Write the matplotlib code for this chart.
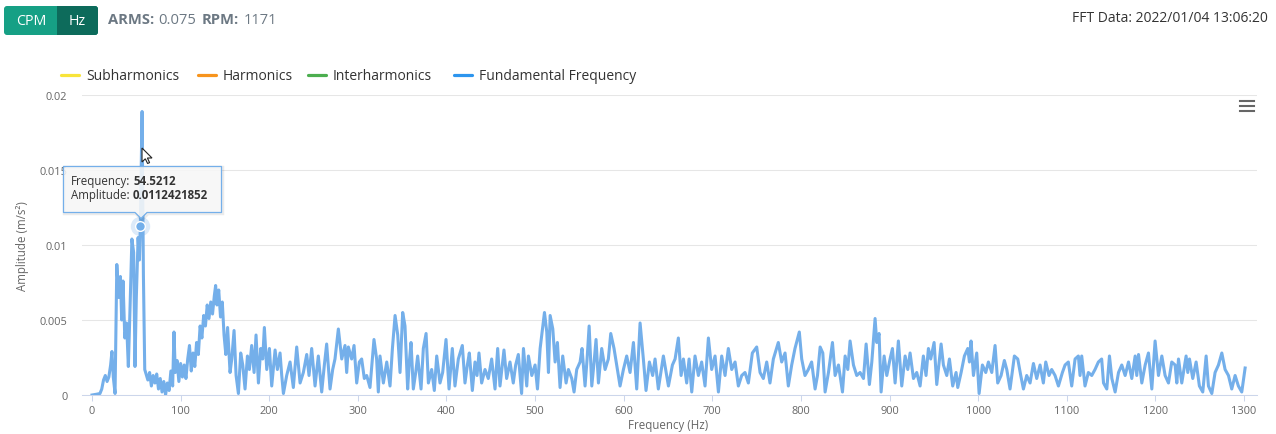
import numpy as np
import matplotlib.pyplot as plt
from matplotlib.transforms import Affine2D
from matplotlib.patches import FancyBboxPatch, Polygon, Rectangle
from matplotlib.lines import Line2D

plt.rcParams['font.family'] = ['Open Sans', 'DejaVu Sans']

W, H = 1276, 435

# FFT spectrum: frequency (Hz) and amplitude (x 1e-3 m/s²)
freq_hz = [
    0, 5, 9, 11, 13, 15, 17, 19, 21, 22.5, 24, 26, 28, 30, 32, 33.5, 35, 37, 39, 41,
    43, 45, 47, 48.5, 50, 52, 53.5, 54.5212, 56.5, 58, 59.5,
    61, 63, 65, 67, 69, 71, 73, 75, 77, 79, 81, 83, 85, 87, 89, 91, 92.5, 94, 96, 98,
    100, 102, 104, 106, 108, 110, 112, 114, 116, 118, 120, 122, 124, 126, 128, 130,
    132, 134, 136, 138, 139.5, 141, 143, 145, 147, 149, 151, 153,
    155.8, 157.7, 160.3, 162.6, 165.2, 167.8, 170.1, 172.7, 175.4, 177.6, 180.2, 182.9,
    185.1, 187.8, 190.4, 192.6, 194.5, 197.2, 200.2, 202.8, 206.6, 209.2, 212.2, 214.1,
    216, 219.7, 223.5, 227.2, 231, 234.8, 238.5, 242.3, 244.9, 247.9, 251.7, 255.4,
    259.2, 262.2, 264.8, 268.6, 271.6, 274.2, 278, 281.8, 285.5, 287.4, 289.3, 293,
    295.7, 298.7, 301.7, 304.3, 307.3, 310, 313.7, 318.2, 321.2, 323.1,
    325, 328.8, 332.6, 336.3, 339, 342, 345, 347.6, 350.6, 353.2, 356.2, 358.1, 360,
    362.6, 365.3, 367.5, 371.3, 373.9, 377, 379.6, 383.3, 386.3, 389, 392.7, 395.7,
    399.5, 402.9, 406.6, 409.6, 413.4, 417.9, 420.9, 423.6, 425.8, 429.2, 432.2, 434.5,
    436.7, 439.7, 443.5, 447.2, 451, 454.8, 457.8, 460.4, 464.9, 467.9, 471.7, 475.4,
    478.1, 481.1, 484.8,
    486.9, 490.6, 492.5, 496.3, 500, 502.7, 505.7, 508.3, 510.6, 513.2, 515.1, 517,
    520, 522.6, 525.2, 528.2, 531.2, 535, 537.6, 541.4, 544, 547, 550.8, 553, 556.4,
    558.7, 561, 564, 566.6, 568.8, 571.5, 575.2, 579, 582.7, 585.4, 589.1, 592.1,
    595.9, 599.7, 603.4, 607.2, 611, 614.7, 618.5, 622.2, 625.2, 629, 632.7, 635.4,
    639.1, 644.8, 648.5,
    650.5, 655, 658, 661.7, 664.8, 667.4, 671.1, 673.8, 676.8, 680.5, 684.3, 688,
    691.8, 695.6, 699.3, 703.1, 706.9, 710.6, 714.4, 718.1, 721.9, 725.7, 729.4,
    733.2, 736.9, 740.7, 745.2, 750.1, 753.9, 757.6, 761.4, 765.1, 768.9, 774.5,
    778.3, 782.1, 785.8, 789.6, 793.3, 798.2, 800.9, 804.6, 808.4, 812.1,
    816, 818.7, 821.7, 824.7, 827.3, 831.1, 835.6, 838.6, 842.4, 846.9, 849.9, 852.9,
    855.5, 859.3, 863, 866.8, 870.6, 873.6, 877.3, 880, 883.7, 885.6, 888.2, 890.5,
    893.9, 896.9, 900.6, 903.3, 906.3, 910, 913.8, 917.6, 920.6, 923.2, 927, 930.7,
    934.5, 938.2, 941.2, 943.9, 946.5, 950.3, 953.3, 958.2, 960.8, 964.6, 967.6,
    971.3, 975.1,
    977, 980.8, 984.5, 988.3, 990.2, 992, 994.7, 998.4, 1001.1, 1004.8, 1008.6,
    1011.6, 1015.4, 1019.1, 1022.1, 1025.9, 1029.6, 1032.3, 1036, 1040.9, 1044.7,
    1048.1, 1051.1, 1054.8, 1058.6, 1062.4, 1066.1, 1069.9, 1073.6, 1076.3, 1080,
    1083, 1086.8, 1090.6, 1095.1, 1098.1, 1101.8, 1105.6, 1109.4, 1113.1, 1115,
    1116.9, 1120.6, 1124.4, 1128.2, 1131.9, 1135.7, 1139.4,
    1141.5, 1145.2, 1148.2, 1150.9, 1154.6, 1158.4, 1162.1, 1165.9, 1169.7, 1173.4,
    1177.2, 1179, 1181, 1184.7, 1188.5, 1192.2, 1196, 1199.7, 1203.5, 1207.3, 1211,
    1214.8, 1218.5, 1222.3, 1224.2, 1226.1, 1229.8, 1234.7, 1236.6, 1238.5, 1242.2,
    1246, 1249.7, 1253.5, 1257.3, 1259.9, 1263.7, 1267.4, 1271.2, 1275, 1278.7,
    1282.5, 1286.2, 1290, 1293.7, 1297.5, 1301.3,
]
amp_milli = [
    0.0, 0.05, 0.1, 0.4, 1.0, 1.3, 0.9, 1.2, 2.0, 2.9, 1.2, 0.1, 8.7, 6.5, 7.9, 5.0, 7.6, 3.8, 4.8, 1.9,
    6.0, 10.4, 9.5, 1.9, 6.5, 10.5, 9.0, 11.2421852, 18.9, 8.0, 1.7,
    1.4, 1.0, 1.5, 0.6, 1.3, 0.8, 1.4, 0.4, 1.1, 0.2, 0.9, 0.0, 0.8, 0.3, 1.6, 0.6, 4.2, 1.5, 2.3, 0.9,
    2.1, 1.2, 2.0, 1.1, 2.4, 3.3, 1.6, 2.8, 1.9, 3.5, 2.7, 4.6, 3.8, 5.3, 4.6, 6.0,
    5.1, 6.2, 5.4, 6.6, 7.3, 6.0, 7.0, 5.2, 6.2, 4.0, 2.7, 4.5,
    1.5, 2.4, 4.3, 1.3, 0.1, 2.8, 2.0, 0.4, 2.6, 1.7, 3.3, 1.5,
    4.0, 0.8, 3.1, 2.4, 4.5, 1.7, 3.1, 0.6, 3.0, 1.7, 2.8, 1.3,
    0.1, 1.3, 2.2, 0.5, 3.2, 0.8, 1.5, 2.7, 1.3, 3.1, 0.6, 2.6,
    0.2, 2.0, 3.4, 0.4, 1.7, 2.4, 4.4, 2.4, 3.3, 1.5, 3.2, 2.4,
    3.3, 0.8, 2.2, 2.4, 1.1, 1.3, 0.5, 3.7, 2.4, 0.2,
    2.6, 0.8, 2.2, 0.6, 3.1, 5.3, 4.0, 1.5, 5.5, 4.6, 0.4, 2.2, 3.5,
    0.4, 1.5, 2.6, 0.4, 3.1, 4.1, 0.8, 1.7, 0.3, 2.6, 0.8, 1.5,
    3.7, 0.4, 3.1, 0.6, 2.4, 3.3, 0.8, 2.0, 2.8, 0.3, 2.2, 1.3,
    2.8, 0.8, 1.7, 1.1, 2.4, 0.4, 3.1, 0.6, 3.0, 1.1, 2.2, 0.8,
    2.0, 2.7, 0.1,
    3.1, 0.6, 2.6, 1.3, 2.0, 0.4, 3.1, 4.4, 5.5, 4.2, 1.5, 5.3,
    4.4, 2.2, 3.5, 0.5, 2.6, 0.8, 1.7, 1.1, 0.2, 1.7, 2.2, 3.1, 0.6,
    2.4, 4.6, 0.6, 2.2, 3.7, 0.8, 3.1, 1.7, 2.4, 4.1, 3.1, 2.0,
    0.6, 1.7, 2.6, 1.5, 3.5, 0.4, 4.8, 2.4, 0.3, 2.2, 1.3, 2.4,
    0.4, 2.6, 1.3,
    0.6, 2.0, 2.4, 3.8, 1.3, 2.4, 0.8, 2.4, 0.2, 2.6, 1.3, 2.2,
    0.6, 3.8, 1.7, 2.6, 0.2, 2.6, 1.3, 3.1, 1.7, 2.2, 0.6,
    1.3, 1.5, 0.8, 2.8, 3.2, 1.5, 1.1, 2.2, 0.8, 2.4, 3.5,
    2.2, 2.8, 0.6, 2.0, 3.1, 4.2, 2.4, 1.3, 1.7, 2.2,
    0.4, 1.3, 3.2, 2.8, 0.2, 1.5, 3.5, 1.3, 2.0, 0.2, 2.6, 1.7,
    3.6, 2.0, 1.3, 1.5, 1.1, 3.4, 0.7, 2.2, 5.1, 3.5, 4.1, 0.2,
    2.6, 1.3, 2.4, 3.1, 0.8, 3.6, 0.6, 2.6, 1.7, 2.8, 1.1, 1.5,
    0.6, 2.6, 1.3, 3.1, 2.4, 3.5, 0.7, 3.4, 2.0, 1.3, 2.4,
    0.6, 1.5,
    0.5, 1.5, 2.6, 3.1, 2.2, 3.6, 1.3, 2.8, 0.1, 2.0, 1.5,
    2.2, 1.5, 3.3, 0.8, 1.3, 2.3, 1.7, 0.4, 2.6, 2.4,
    1.3, 0.4, 1.3, 0.8, 2.1, 1.1, 2.0, 0.8, 2.2, 1.3,
    1.7, 1.3, 0.6, 1.5, 2.0, 2.2, 0.6, 2.4, 2.6, 1.3,
    2.6, 0.6, 1.5, 1.3, 1.7, 2.2, 2.4,
    0.8, 0.4, 2.6, 1.1, 0.2, 1.5, 2.0, 1.3, 2.2, 1.1,
    2.6, 1.3, 2.7, 0.8, 2.0, 2.8, 0.4, 3.6, 1.3, 2.6, 1.3,
    0.8, 2.2, 2.0, 0.8, 2.4, 0.8, 2.6, 1.5, 2.4, 1.1,
    2.2, 0.6, 0.2, 2.6, 0.6, 0.1, 1.5, 2.0, 2.8, 1.7,
    1.3, 0.4, 1.3, 0.6, 0.2, 1.8,
]
assert len(freq_hz) == len(amp_milli)

hover_freq = 54.5212

x_ticks = list(range(0, 1301, 100))
y_ticks = [0, 0.005, 0.01, 0.015, 0.02]
y_tick_labels = ['0', '0.005', '0.01', '0.015', '0.02']

legend_names = ['Subharmonics', 'Harmonics', 'Interharmonics', 'Fundamental Frequency']
legend_colors = ['#f8e43a', '#f7941d', '#4cae4f', '#2d95ee']
legend_x = [59, 196, 306, 452]

arms = '0.075'
rpm = '1171'
fft_stamp = '2022/01/04 13:06:20'

LINE = '#74afea'
GRAY = '#666666'

freq = np.array(freq_hz)
amp = np.array(amp_milli) * 1e-3

fig = plt.figure(figsize=(W / 100, H / 100), dpi=100)
fig.patch.set_facecolor('white')
# pixel coordinates with the origin at the top-left corner
px = Affine2D().scale(1 / W, -1 / H).translate(0, 1) + fig.transFigure
renderer = fig.canvas.get_renderer()

ax = fig.add_axes([82 / W, 1 - 396 / H, 1175 / W, 300 / H])
ax.plot(freq, amp, color=LINE, lw=2.2, solid_joinstyle='round', zorder=3)
ax.set_xlim(-11.3, 1314.7)
ax.set_ylim(0, 0.02)

ax.set_xticks(x_ticks)
ax.set_xticklabels([str(t) for t in x_ticks])
ax.set_yticks(y_ticks)
ax.set_yticklabels(y_tick_labels)
ax.tick_params(axis='x', length=4, width=0.75, color='#ccd6eb', pad=3.5,
               labelsize=7.9, labelcolor=GRAY)
ax.tick_params(axis='y', length=0, pad=10.5, labelsize=7.9, labelcolor=GRAY)
ax.grid(axis='y', color='#e6e6e6', lw=0.75)
ax.set_axisbelow(True)
for side in ['top', 'right', 'left']:
    ax.spines[side].set_visible(False)
ax.spines['bottom'].set_color('#ccd6eb')
ax.spines['bottom'].set_linewidth(0.75)

# hovered point
hover = int(np.argmin(np.abs(freq - hover_freq)))
ax.plot(freq[hover], amp[hover], 'o', ms=14, color=LINE, alpha=0.25, mec='none', zorder=4)
ax.plot(freq[hover], amp[hover], 'o', ms=7, mfc=LINE, mec='white', mew=1, zorder=5)

fig.text(23, 246, 'Amplitude (m/s²)', transform=px, rotation=90, ha='center',
         va='center', fontsize=8.3, color=GRAY)
fig.text(668, 426, 'Frequency (Hz)', transform=px, ha='center', va='center',
         fontsize=8.3, color=GRAY)


def text_run(x, y, parts, gap=4, **kw):
    # lays out text pieces left to right, each with its own weight
    for s, weight in parts:
        t = fig.text(x, y, s, transform=px, fontweight=weight, va='center', **kw)
        x = t.get_window_extent(renderer).x1 + gap
    return x


# header: unit toggle, summary values, timestamp
fig.add_artist(FancyBboxPatch((4, 7), 94, 29, boxstyle='round,pad=0,rounding_size=3',
                              transform=px, fc='#16a085', ec='none'))
fig.add_artist(FancyBboxPatch((57, 7), 41, 29, boxstyle='round,pad=0,rounding_size=3',
                              transform=px, fc='#0d6b5b', ec='none'))
fig.add_artist(Rectangle((57, 7), 5, 29, transform=px, fc='#0d6b5b', ec='none'))
fig.text(31, 21.5, 'CPM', transform=px, ha='center', va='center', color='white', fontsize=10.3)
fig.text(77.5, 21.5, 'Hz', transform=px, ha='center', va='center', color='white', fontsize=10.3)

hdr = dict(fontsize=10.6, color='#6c7883')
text_run(108, 20.5, [('ARMS:', 'bold'), (arms, 'normal')], **hdr)
text_run(202, 20.5, [('RPM:', 'bold'), (rpm, 'normal')], **hdr)
fig.text(1268, 19, 'FFT Data: ' + fft_stamp, transform=px, ha='right', va='center',
         fontsize=10, color='#333333')

# legend
for name, color, x0 in zip(legend_names, legend_colors, legend_x):
    fig.add_artist(Line2D([x0 + 1.5, x0 + 19.5], [76, 76], transform=px, color=color,
                          lw=2.3, solid_capstyle='round'))
    fig.text(x0 + 27, 76, name, transform=px, va='center', fontsize=10, color='#333333')

# export menu icon
for yy in [101.5, 106.5, 111.5]:
    fig.add_artist(Line2D([1240, 1254], [yy, yy], transform=px, color=GRAY, lw=1.5))

# tooltip with callout pointer
tip_pts = [(63.5, 167.5), (221.5, 167.5), (221.5, 213.5), (147, 213.5), (141, 219.5),
           (135, 213.5), (63.5, 213.5)]
shadow = Polygon([(x + 1, y + 1) for x, y in tip_pts], closed=True, transform=px,
                 fc='none', ec='black', lw=2.5, alpha=0.08, zorder=9)
fig.add_artist(shadow)
fig.add_artist(Polygon(tip_pts, closed=True, transform=px, fc='#f7f7f7', alpha=0.88,
                       ec='none', zorder=10))
fig.add_artist(Polygon(tip_pts, closed=True, transform=px, fc='none', ec=LINE,
                       lw=0.9, joinstyle='round', zorder=11))
tip = dict(fontsize=8.3, color='#333333', zorder=12)
text_run(71, 181.5, [('Frequency:', 'normal'), (f'{freq[hover]:.4f}', 'bold')], gap=3, **tip)
text_run(71, 195.5, [('Amplitude:', 'normal'), (f'{amp[hover]:.10f}', 'bold')], gap=3, **tip)

# mouse pointer
arrow = [(0, 0), (0, 14), (3.3, 10.8), (5.6, 15.5), (7.6, 14.6), (5.4, 10), (10, 10)]
fig.add_artist(Polygon([(142 + x, 149 + y) for x, y in arrow], closed=True, transform=px,
                       fc='white', ec='#222222', lw=0.8, zorder=13))

fig.savefig('out.png', dpi=100, facecolor='white')
